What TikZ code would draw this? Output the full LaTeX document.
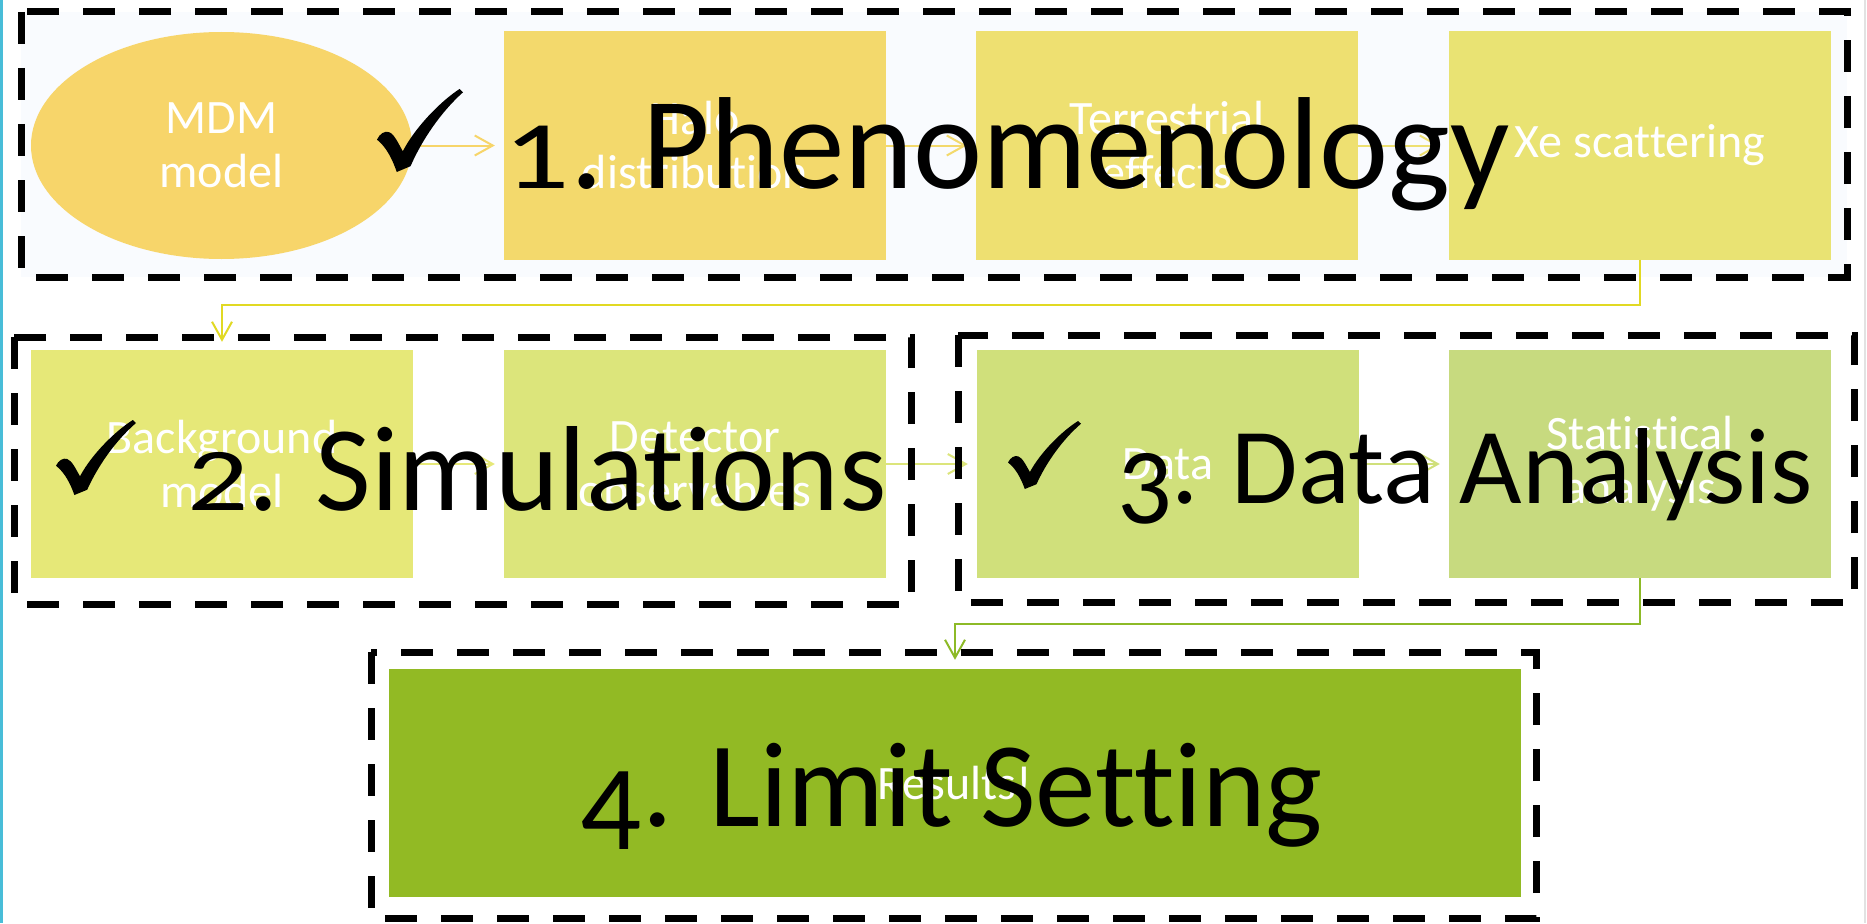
\documentclass[tikz,border=0pt]{standalone}
\usepackage{fontspec}
\usepackage{graphicx}
\setmainfont{Carlito}[Ligatures=CommonOff]
\usetikzlibrary{arrows.meta,shapes.geometric}
\newcommand\osSmall[1]{\scalebox{1}[0.74]{#1}}
\newcommand\osLow[1]{\raisebox{-0.19em}{#1}}
\definecolor{cEll}{HTML}{F7D56A}
\definecolor{cHalo}{HTML}{F3D96C}
\definecolor{cTerr}{HTML}{EEE071}
\definecolor{cXe}{HTML}{E9E373}
\definecolor{cBg}{HTML}{E6E878}
\definecolor{cDet}{HTML}{DCE57B}
\definecolor{cData}{HTML}{D0E07B}
\definecolor{cStat}{HTML}{C7DA7F}
\definecolor{cRes}{HTML}{92BA24}
\definecolor{aYel}{HTML}{E1D923}
\definecolor{aGrn}{HTML}{8DBA27}
\definecolor{edgeCyan}{HTML}{48BDD8}
\definecolor{edgeGray}{HTML}{E2E2E2}
\definecolor{panelBg}{HTML}{F9FBFE}
\tikzset{
  chk/.pic={\fill[black] (0,0.39) .. controls (0.03,0.46) and (0.09,0.50) .. (0.14,0.48)
      .. controls (0.20,0.46) and (0.25,0.34) .. (0.30,0.25)
      .. controls (0.45,0.55) and (0.75,0.86) .. (0.96,1.0)
      -- (1.0,0.96)
      .. controls (0.74,0.72) and (0.52,0.38) .. (0.39,0.07)
      -- (0.23,0)
      .. controls (0.18,0.15) and (0.11,0.30) .. (0,0.39) -- cycle;}
}
\begin{document}
\begin{tikzpicture}[x=1pt,y=-1pt,
  box/.style={rectangle, minimum width=382pt, minimum height=228pt, inner sep=0pt,
    text=white, font=\fontsize{48}{54}\selectfont, align=center},
  conn/.style={line width=2pt, -{Straight Barb[length=18pt,width=20pt]}, shorten >=9pt},
  frame/.style={draw=black, line width=7pt, dash pattern=on 32pt off 24pt},
  big/.style={text=black, inner sep=0pt, anchor=base}
]
\useasboundingbox (0,0) rectangle (1867,923);
\fill[white] (0,0) rectangle (1867,923);
\fill[edgeCyan] (0,0) rectangle (3,923);
\fill[edgeGray] (1864,0) rectangle (1866,923);
% panel background
\fill[panelBg] (21,12) rectangle (1847,277);
% row 1
\node[ellipse, fill=cEll, minimum width=381pt, minimum height=227pt, inner sep=0pt,
  text=white, font=\fontsize{48}{54}\selectfont, align=center] (ell) at (221.5,145.5) {MDM\\model};
\node[box, fill=cHalo] (halo) at (695,145.5) {Halo\\distribution};
\node[box, fill=cTerr] (terr) at (1167,145.5) {Terrestrial\\effects};
\node[box, fill=cXe] (xe) at (1640,145.5) {Xe scattering};
% row 2
\node[box, fill=cBg] (bg) at (222,464) {Background\\model};
\node[box, fill=cDet] (det) at (695,464) {Detector\\observables};
\node[box, fill=cData] (data) at (1168,464) {Data};
\node[box, fill=cStat] (stat) at (1640,464) {Statistical\\analysis};
% row 3
\node[box, fill=cRes, minimum width=1132pt] (res) at (955,783) {Results!};
% connectors
\draw[conn, cEll] (ell.east) -- (halo.west);
\draw[conn, cHalo] (halo.east) -- (terr.west);
\draw[conn, cTerr] (terr.east) -- (xe.west);
\draw[conn, aYel, shorten >=8pt] (xe.south) -- ++(0,45) -| (bg.north);
\draw[conn, cBg] (bg.east) -- (det.west);
\draw[conn, cDet] (det.east) -- (data.west);
\draw[conn, cData] (data.east) -- (stat.west);
\draw[conn, aGrn] (stat.south) -- ++(0,46) -| (res.north);
% dashed frames
\draw[frame] (21,12) rectangle (1847,277);
\draw[frame] (14,337) rectangle (911,604);
\draw[frame] (958,335) rectangle (1854,602);
\draw[frame] (371,652) rectangle (1536,918);
% big titles
\node[big, font=\fontsize{131}{140}\selectfont] (t1) at (1007,188) {\osSmall{1}. Phenomenology};
\node[big, font=\fontsize{121}{130}\selectfont] (t2) at (537,510) {\osSmall{2}. Simulations};
\node[big, font=\fontsize{108}{118}\selectfont] (t3) at (1465,503) {\osLow{3}. Data Analysis};
\node[big, font=\fontsize{121}{130}\selectfont] (t4) at (952,826) {\osLow{4}. Limit Setting};
% check marks
\path (377,172) pic[x=86pt,y=83pt] {chk};
\path (56,495) pic[x=80pt,y=75pt] {chk};
\path (1008,489) pic[x=73pt,y=68pt] {chk};
\end{tikzpicture}
\end{document}
